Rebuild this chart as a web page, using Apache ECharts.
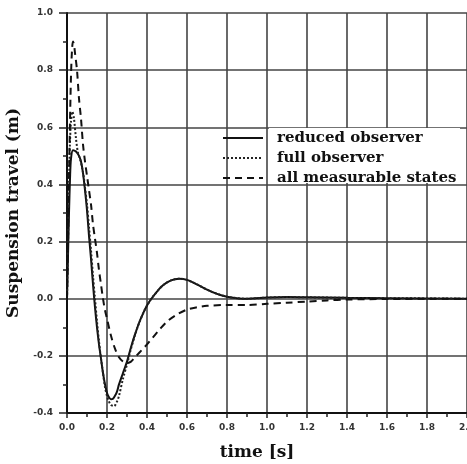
<!DOCTYPE html>
<html>
<head>
<meta charset="utf-8">
<script src="https://cdn.jsdelivr.net/npm/echarts@6/dist/echarts.min.js"></script>
<style>
html,body{margin:0;padding:0;background:#fff;}
#chart{width:467px;height:464px;}
</style>
</head>
<body>
<div id="chart"></div>
<script>
// 数据 - 悬架行程响应
var seriesNames = ['reduced observer', 'full observer', 'all measurable states'];

var reducedObserver = [
	[0,0],[0.005,0.15],[0.01,0.3],[0.015,0.42],[0.02,0.49],[0.03,0.52],[0.045,0.515],[0.06,0.5],
	[0.07,0.48],[0.08,0.44],[0.09,0.38],[0.1,0.31],[0.11,0.22],[0.12,0.14],[0.13,0.05],[0.14,-0.03],
	[0.15,-0.1],[0.16,-0.16],[0.17,-0.21],[0.18,-0.26],[0.19,-0.3],[0.2,-0.33],[0.21,-0.345],
	[0.22,-0.352],[0.23,-0.35],[0.24,-0.34],[0.25,-0.325],[0.26,-0.3],[0.28,-0.26],[0.3,-0.22],
	[0.32,-0.17],[0.34,-0.125],[0.36,-0.085],[0.38,-0.052],[0.4,-0.024],[0.42,-0.002],[0.45,0.025],
	[0.48,0.047],[0.52,0.064],[0.56,0.07],[0.6,0.066],[0.65,0.05],[0.7,0.032],[0.75,0.017],
	[0.8,0.007],[0.85,0.002],[0.9,0.0],[1.0,0.004],[1.1,0.006],[1.2,0.005],[1.4,0.003],[1.6,0.002],[2.0,0]
];

var fullObserver = [
	[0,0],[0.005,0.2],[0.01,0.4],[0.015,0.55],[0.02,0.62],[0.027,0.655],[0.035,0.63],[0.045,0.56],
	[0.055,0.51],[0.065,0.49],[0.075,0.46],[0.085,0.42],[0.09,0.39],[0.1,0.33],[0.11,0.25],
	[0.12,0.17],[0.13,0.08],[0.14,0.0],[0.15,-0.08],[0.16,-0.15],[0.17,-0.21],[0.18,-0.26],
	[0.19,-0.31],[0.2,-0.34],[0.21,-0.36],[0.22,-0.372],[0.235,-0.376],[0.25,-0.36],[0.26,-0.34],
	[0.28,-0.28],[0.3,-0.23],[0.32,-0.175],[0.34,-0.127],[0.36,-0.086],[0.38,-0.052],[0.4,-0.024],
	[0.42,-0.002],[0.45,0.025],[0.48,0.047],[0.52,0.064],[0.56,0.07],[0.6,0.066],[0.65,0.05],
	[0.7,0.032],[0.75,0.017],[0.8,0.007],[0.85,0.002],[0.9,0.0],[1.0,0.004],[1.1,0.006],
	[1.2,0.005],[1.4,0.003],[1.6,0.002],[2.0,0]
];

var allMeasurable = [
	[0,0],[0.005,0.2],[0.01,0.42],[0.015,0.62],[0.02,0.78],[0.025,0.87],[0.03,0.9],[0.035,0.89],
	[0.04,0.86],[0.05,0.8],[0.06,0.7],[0.07,0.63],[0.08,0.54],[0.09,0.48],[0.1,0.43],[0.11,0.38],
	[0.12,0.33],[0.13,0.26],[0.14,0.21],[0.15,0.16],[0.16,0.1],[0.17,0.05],[0.18,0.0],[0.19,-0.04],
	[0.2,-0.07],[0.22,-0.13],[0.24,-0.175],[0.26,-0.205],[0.28,-0.22],[0.3,-0.225],[0.32,-0.22],
	[0.34,-0.205],[0.36,-0.19],[0.38,-0.175],[0.4,-0.16],[0.43,-0.135],[0.46,-0.11],[0.5,-0.08],
	[0.55,-0.055],[0.6,-0.038],[0.65,-0.03],[0.7,-0.025],[0.8,-0.022],[0.9,-0.022],[1.0,-0.018],
	[1.1,-0.014],[1.2,-0.01],[1.3,-0.006],[1.4,-0.003],[1.6,-0.001],[2.0,0]
];

var xRange = [0, 2.0];
var yRange = [-0.4, 1.0];

var myChart = echarts.init(document.getElementById('chart'));

var gridLine = { show: true, lineStyle: { color: '#444', width: 1.6 } };
var tickFont = { color: '#333', fontSize: 9, fontWeight: 'bold', fontFamily: 'DejaVu Sans' };

var option = {
	animation: false,
	backgroundColor: '#fff',
	grid: { left: 67, right: 0, top: 13, bottom: 51, containLabel: false, outerBoundsMode: 'none' },
	legend: {
		orient: 'vertical',
		left: 217,
		top: 124,
		itemWidth: 40,
		itemHeight: 10,
		itemGap: 2,
		data: seriesNames,
		itemStyle: { opacity: 0 },
		textStyle: {
			color: '#111',
			fontSize: 15,
			fontWeight: 'bold',
			lineHeight: 18,
			fontFamily: 'DejaVu Serif',
			padding: [0, 0, 0, 9]
		},
		z: 5
	},
	graphic: [{
		type: 'rect',
		shape: { x: 269, y: 128, width: 191, height: 55 },
		style: { fill: '#fff' },
		z: 4
	}],
	xAxis: {
		type: 'value',
		min: xRange[0],
		max: xRange[1],
		interval: 0.2,
		name: 'time [s]',
		nameLocation: 'middle',
		nameGap: 31,
		nameTextStyle: { color: '#111', fontSize: 17, fontWeight: 'bold', fontFamily: 'DejaVu Serif', padding: [0, 20, 0, 0] },
		axisLine: { show: true, onZero: false, lineStyle: { color: '#111', width: 2 } },
		axisTick: { show: true, length: 5, lineStyle: { color: '#222', width: 1.5 } },
		minorTick: { show: true, splitNumber: 2, length: 4, lineStyle: { color: '#222', width: 1.5 } },
		axisLabel: {
			margin: 10,
			formatter: function (v) { return v.toFixed(1); },
			color: tickFont.color, fontSize: tickFont.fontSize, fontWeight: tickFont.fontWeight, fontFamily: tickFont.fontFamily
		},
		splitLine: gridLine
	},
	yAxis: {
		type: 'value',
		min: yRange[0],
		max: yRange[1],
		interval: 0.2,
		name: 'Suspension travel (m)',
		nameLocation: 'middle',
		nameGap: 44,
		nameTextStyle: { color: '#111', fontSize: 17, fontWeight: 'bold', fontFamily: 'DejaVu Serif' },
		axisLine: { show: true, onZero: false, lineStyle: { color: '#111', width: 2 } },
		axisTick: { show: true, length: 8, lineStyle: { color: '#222', width: 1.5 } },
		minorTick: { show: true, splitNumber: 2, length: 4, lineStyle: { color: '#222', width: 1.5 } },
		axisLabel: {
			margin: 14,
			formatter: function (v) { return v.toFixed(1); },
			color: tickFont.color, fontSize: tickFont.fontSize, fontWeight: tickFont.fontWeight, fontFamily: tickFont.fontFamily
		},
		splitLine: gridLine
	},
	series: [
		{
			name: seriesNames[0],
			type: 'line',
			symbol: 'none',
			smooth: 0.3,
			data: reducedObserver,
			lineStyle: { color: '#111', width: 2, type: 'solid' },
			itemStyle: { color: '#111' }
		},
		{
			name: seriesNames[1],
			type: 'line',
			symbol: 'none',
			smooth: 0.3,
			data: fullObserver,
			lineStyle: { color: '#222', width: 2, type: [2, 2] },
			itemStyle: { color: '#222' }
		},
		{
			name: seriesNames[2],
			type: 'line',
			symbol: 'none',
			smooth: 0.3,
			data: allMeasurable,
			lineStyle: { color: '#111', width: 2, type: [7, 5] },
			itemStyle: { color: '#111' }
		}
	]
};

myChart.setOption(option);
</script>
</body>
</html>
